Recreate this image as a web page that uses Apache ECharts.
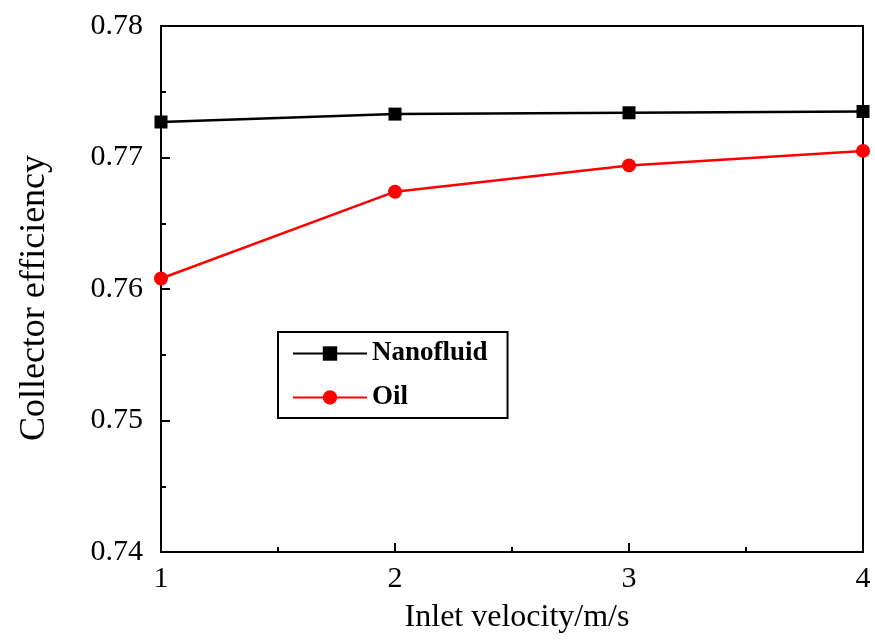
<!DOCTYPE html>
<html>
<head>
<meta charset="utf-8">
<script src="https://cdn.jsdelivr.net/npm/echarts@6/dist/echarts.min.js"></script>
<style>html,body{margin:0;padding:0;background:#fff}#c{width:875px;height:643px}</style>
</head>
<body>
<div id="c"></div>
<script>
var velocities = [1, 2, 3, 4];
var nanofluid = [0.7727, 0.7733, 0.7734, 0.7735];
var oil = [0.7608, 0.7674, 0.7694, 0.7705];
var yTicks = [0.74, 0.75, 0.76, 0.77, 0.78];

var font = 'Liberation Serif';
function pairs(xs, ys) { return xs.map(function (x, i) { return [x, ys[i]]; }); }

var chart = echarts.init(document.getElementById('c'), null, {renderer: 'canvas'});
chart.setOption({
  animation: false,
  backgroundColor: '#fff',
  grid: {left: 161, right: 12, top: 26, bottom: 91, show: true, borderColor: '#000', borderWidth: 2,
         containLabel: false, outerBoundsMode: 'none'},
  legend: {
    orient: 'vertical', left: 278, top: 332,
    borderColor: '#000', borderWidth: 2, padding: [8, 20, 7, 14],
    itemWidth: 74, itemHeight: 18, itemGap: 17,
    textStyle: {fontFamily: font, fontSize: 27, color: '#000', fontWeight: 'bold'},
    data: ['Nanofluid', 'Oil']
  },
  xAxis: {
    type: 'value', min: 1, max: 4, interval: 1,
    name: 'Inlet velocity/m/s', nameLocation: 'middle', nameGap: 50,
    nameTextStyle: {fontFamily: font, fontSize: 32, color: '#000', padding: [0, 0, 0, 10]},
    axisLine: {show: true, lineStyle: {color: '#000', width: 2}},
    axisTick: {show: true, inside: true, length: 9, lineStyle: {color: '#000', width: 2}},
    minorTick: {show: true, splitNumber: 2, length: 5, lineStyle: {color: '#000', width: 2}},
    axisLabel: {fontFamily: font, fontSize: 30, color: '#000', margin: 12},
    splitLine: {show: false}
  },
  yAxis: {
    type: 'value', min: yTicks[0], max: yTicks[yTicks.length - 1], interval: 0.01,
    name: 'Collector efficiency', nameLocation: 'middle', nameGap: 108,
    nameTextStyle: {fontFamily: font, fontSize: 36, color: '#000', padding: [0, 18, 0, 0]},
    axisLine: {show: true, lineStyle: {color: '#000', width: 2}},
    axisTick: {show: true, inside: true, length: 9, lineStyle: {color: '#000', width: 2}},
    minorTick: {show: true, splitNumber: 2, length: 5, lineStyle: {color: '#000', width: 2}},
    axisLabel: {fontFamily: font, fontSize: 30, color: '#000', margin: 18, formatter: function (v) { return v.toFixed(2); }},
    splitLine: {show: false}
  },
  series: [
    {name: 'Nanofluid', type: 'line', data: pairs(velocities, nanofluid), symbol: 'rect', symbolSize: 13,
     lineStyle: {color: '#000', width: 2.5}, itemStyle: {color: '#000'}, clip: false},
    {name: 'Oil', type: 'line', data: pairs(velocities, oil), symbol: 'circle', symbolSize: 14,
     lineStyle: {color: '#ff0000', width: 2.5}, itemStyle: {color: '#ff0000'}, clip: false}
  ]
});
</script>
</body>
</html>
